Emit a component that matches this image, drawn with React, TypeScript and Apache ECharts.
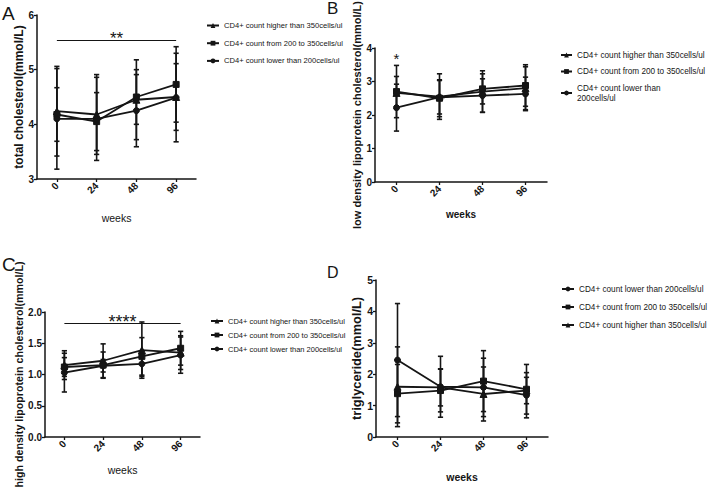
import React, { useEffect, useRef } from "react";
import * as echarts from "echarts";

// ---------- data ----------
const categories = ["0", "24", "48", "96"];

const nameHigh = "CD4+ count higher than 350cells/ul";
const nameMid = "CD4+ count from 200 to 350cells/ul";
const nameLow = "CD4+ count lower than 200cells/ul";
const nameLowB = "CD4+ count lower than\n200cells/ul";

// Panel A: total cholesterol (mean, SD)
const aHighMean = [4.24, 4.18, 4.45, 4.5];
const aHighSd = [0.82, 0.73, 0.73, 0.61];
const aMidMean = [4.18, 4.05, 4.5, 4.73];
const aMidSd = [0.49, 0.53, 0.5, 0.69];
const aLowMean = [4.1, 4.1, 4.25, 4.49];
const aLowSd = [0.92, 0.76, 0.66, 0.81];

// Panel B: LDL cholesterol
const bHighMean = [2.66, 2.55, 2.7, 2.8];
const bHighSd = [0.49, 0.68, 0.62, 0.64];
const bMidMean = [2.7, 2.5, 2.78, 2.88];
const bMidSd = [0.78, 0.55, 0.45, 0.62];
const bLowMean = [2.22, 2.53, 2.58, 2.63];
const bLowSd = [0.7, 0.5, 0.5, 0.5];

// Panel C: HDL cholesterol
const cHighMean = [1.15, 1.22, 1.39, 1.35];
const cHighSd = [0.23, 0.27, 0.45, 0.27];
const cMidMean = [1.12, 1.15, 1.29, 1.42];
const cMidSd = [0.15, 0.21, 0.3, 0.27];
const cLowMean = [1.03, 1.14, 1.17, 1.31];
const cLowSd = [0.31, 0.1, 0.2, 0.29];

// Panel D: triglyceride
const dLowMean = [2.45, 1.6, 1.58, 1.33];
const dLowSd = [1.8, 0.97, 0.93, 0.72];
const dMidMean = [1.38, 1.48, 1.78, 1.52];
const dMidSd = [0.93, 0.68, 0.97, 0.79];
const dHighMean = [1.6, 1.58, 1.37, 1.48];
const dHighSd = [1.27, 0.59, 0.86, 0.42];

// significance annotations
const sigA = { text: "**", level: 5.54 };
const sigB = { text: "*", level: 3.7 };
const sigC = { text: "****", level: 1.82 };

// ---------- styles ----------
const FONT = "'Liberation Sans', Arial, sans-serif";
const INK = "#151515";

type Grp = { name: string; symbol: string; size: number; mean: number[]; sd: number[] };

function errorRender(params: any, api: any) {
  const x = api.value(0);
  const lo = api.coord([x, api.value(1)]);
  const hi = api.coord([x, api.value(2)]);
  const w = 2.6;
  const style = { stroke: INK, lineWidth: 1.6 };
  return {
    type: "group",
    children: [
      { type: "line", shape: { x1: lo[0], y1: lo[1], x2: hi[0], y2: hi[1] }, style },
      { type: "line", shape: { x1: lo[0] - w, y1: lo[1], x2: lo[0] + w, y2: lo[1] }, style },
      { type: "line", shape: { x1: hi[0] - w, y1: hi[1], x2: hi[0] + w, y2: hi[1] }, style },
    ],
  };
}

export default function App() {
  const ref = useRef<HTMLDivElement>(null);
  useEffect(() => {
    if (!ref.current) return;
    const chart = echarts.init(ref.current, undefined, { renderer: "svg" });

    const panels = [
      {
        grid: { left: 37, top: 15, width: 159, height: 164 },
        y: { min: 3, max: 6, interval: 1, name: "total cholesterol(mmol/L)", nameGap: 5, nameSize: 12, dec: 0, labelSize: 10 },
        xNameGap: 33, xNameSize: 10.5, xNameWeight: "normal",
        legend: { left: 206, top: 20, size: 7.6, lh: 11, gap: 6.7, iw: 12 },
        groups: [
          { name: nameHigh, symbol: "triangle", size: 7, mean: aHighMean, sd: aHighSd },
          { name: nameMid, symbol: "rect", size: 6, mean: aMidMean, sd: aMidSd },
          { name: nameLow, symbol: "circle", size: 6, mean: aLowMean, sd: aLowSd },
        ] as Grp[],
        sig: { kind: "line", ...sigA, size: 17, dist: -7 },
      },
      {
        grid: { left: 375, top: 48, width: 172, height: 134 },
        y: { min: 0, max: 4, interval: 1, name: "low density lipoprotein cholesterol(mmol/L)", nameGap: 13, nameSize: 11, dec: 0, labelSize: 10 },
        xNameGap: 27, xNameSize: 10, xNameWeight: "bold",
        legend: { left: 560, top: 50, size: 8.2, lh: 10, gap: 6.5, iw: 11 },
        groups: [
          { name: nameHigh, symbol: "triangle", size: 7, mean: bHighMean, sd: bHighSd },
          { name: nameMid, symbol: "rect", size: 6, mean: bMidMean, sd: bMidSd },
          { name: nameLowB, symbol: "circle", size: 6, mean: bLowMean, sd: bLowSd },
        ] as Grp[],
        sig: { kind: "point", ...sigB, size: 15, dist: 0 },
      },
      {
        grid: { left: 45, top: 312, width: 155, height: 125 },
        y: { min: 0, max: 2, interval: 0.5, name: "high density lipoprotein cholesterol(mmol/L)", nameGap: 18, nameSize: 10.7, dec: 1, labelSize: 10 },
        xNameGap: 27, xNameSize: 10.5, xNameWeight: "normal",
        legend: { left: 210, top: 316, size: 7.5, lh: 10, gap: 4, iw: 12 },
        groups: [
          { name: nameHigh, symbol: "triangle", size: 7, mean: cHighMean, sd: cHighSd },
          { name: nameMid, symbol: "rect", size: 6, mean: cMidMean, sd: cMidSd },
          { name: nameLow, symbol: "circle", size: 6, mean: cLowMean, sd: cLowSd },
        ] as Grp[],
        sig: { kind: "line", ...sigC, size: 18, dist: -8 },
      },
      {
        grid: { left: 376, top: 280, width: 172, height: 157 },
        y: { min: 0, max: 5, interval: 1, name: "triglyceride(mmol/L)", nameGap: 13, nameSize: 12.8, dec: 0, labelSize: 10.5 },
        xNameGap: 34, xNameSize: 10.5, xNameWeight: "bold",
        legend: { left: 561, top: 283, size: 8.2, lh: 12, gap: 6, iw: 12 },
        groups: [
          { name: nameLow, symbol: "circle", size: 6, mean: dLowMean, sd: dLowSd },
          { name: nameMid, symbol: "rect", size: 6, mean: dMidMean, sd: dMidSd },
          { name: nameHigh, symbol: "triangle", size: 7, mean: dHighMean, sd: dHighSd },
        ] as Grp[],
        sig: null as any,
      },
    ];

    const grid: any[] = [];
    const xAxis: any[] = [];
    const yAxis: any[] = [];
    const legend: any[] = [];
    const series: any[] = [];

    panels.forEach((p, i) => {
      grid.push({ ...p.grid, containLabel: false, outerBoundsMode: "none" });
      xAxis.push({
        type: "category",
        gridIndex: i,
        data: categories,
        boundaryGap: true,
        name: "weeks",
        nameLocation: "middle",
        nameGap: p.xNameGap,
        nameTextStyle: { fontFamily: FONT, fontSize: p.xNameSize, fontWeight: p.xNameWeight, color: INK },
        axisLine: { lineStyle: { color: INK, width: 1.5 } },
        axisTick: { show: true, alignWithLabel: true, length: 3, lineStyle: { color: INK, width: 1.3 } },
        axisLabel: { rotate: 45, margin: 5, fontFamily: FONT, fontWeight: "bold", fontSize: 10, color: INK },
        splitLine: { show: false },
      });
      yAxis.push({
        type: "value",
        gridIndex: i,
        min: p.y.min,
        max: p.y.max,
        interval: p.y.interval,
        name: p.y.name,
        nameLocation: "middle",
        nameRotate: 90,
        nameGap: p.y.nameGap,
        nameTextStyle: { fontFamily: FONT, fontSize: p.y.nameSize, fontWeight: "bold", color: INK },
        axisLine: { show: true, lineStyle: { color: INK, width: 1.5 } },
        axisTick: { show: true, length: 3, lineStyle: { color: INK, width: 1.3 } },
        axisLabel: {
          margin: 3,
          fontFamily: FONT,
          fontSize: p.y.labelSize,
          fontWeight: "bold",
          color: INK,
          formatter: (v: number) => v.toFixed(p.y.dec),
        },
        splitLine: { show: false },
      });
      legend.push({
        orient: "vertical",
        left: p.legend.left,
        top: p.legend.top,
        padding: 0,
        itemWidth: p.legend.iw,
        itemHeight: 6,
        itemGap: p.legend.gap,
        selectedMode: false,
        data: p.groups.map((g) => g.name),
        textStyle: { fontFamily: FONT, fontSize: p.legend.size, lineHeight: p.legend.lh, color: INK },
      });

      p.groups.forEach((g, k) => {
        const s: any = {
          type: "line",
          name: g.name,
          xAxisIndex: i,
          yAxisIndex: i,
          data: g.mean,
          symbol: g.symbol,
          symbolSize: g.size,
          showAllSymbol: true,
          lineStyle: { color: INK, width: 1.8 },
          itemStyle: { color: INK, borderColor: INK },
          z: 3,
        };
        if (k === 0 && p.sig && p.sig.kind === "line") {
          s.markLine = {
            silent: true,
            symbol: "none",
            lineStyle: { color: INK, type: "solid", width: 1.2 },
            label: {
              show: true,
              position: "insideMiddleTop",
              distance: p.sig.dist,
              formatter: p.sig.text,
              fontFamily: FONT,
              fontSize: p.sig.size,
              color: INK,
            },
            data: [[{ coord: [0, p.sig.level] }, { coord: [3, p.sig.level] }]],
          };
        }
        if (k === 0 && p.sig && p.sig.kind === "point") {
          s.markPoint = {
            silent: true,
            symbol: "circle",
            symbolSize: 0,
            label: { show: true, position: "inside", formatter: p.sig.text, fontFamily: FONT, fontSize: p.sig.size, color: INK },
            data: [{ coord: [0, p.sig.level] }],
          };
        }
        series.push(s);
        series.push({
          type: "custom",
          name: g.name + " SD",
          xAxisIndex: i,
          yAxisIndex: i,
          renderItem: errorRender,
          encode: { x: 0, y: [1, 2] },
          data: g.mean.map((m, j) => [j, m - g.sd[j], m + g.sd[j]]),
          z: 2,
        });
      });
    });

    const letter = (text: string, left: number, top: number, size: number) => ({
      text,
      left,
      top,
      padding: 0,
      textStyle: { fontFamily: FONT, fontSize: size, fontWeight: "normal", color: INK },
    });

    chart.setOption({
      animation: false,
      backgroundColor: "#ffffff",
      title: [letter("A", 2, 4, 19), letter("B", 327, 0, 17), letter("C", 2, 255, 19), letter("D", 327, 264, 16)],
      grid,
      xAxis,
      yAxis,
      legend,
      series,
    });
    return () => chart.dispose();
  }, []);

  return <div ref={ref} style={{ position: "absolute", left: 0, top: 0, width: 709, height: 487, background: "#fff" }} />;
}
